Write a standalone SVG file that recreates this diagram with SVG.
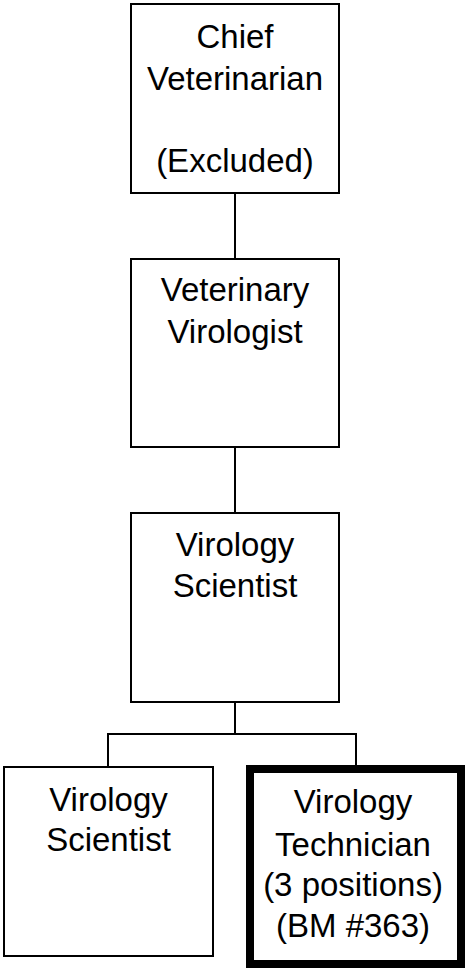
<svg xmlns="http://www.w3.org/2000/svg" width="465" height="969" viewBox="0 0 465 969">
<style>
.box{fill:#fff;stroke:#000;stroke-width:2}
.thick{fill:#fff;stroke:#000;stroke-width:8}
.lbl{font-family:"Liberation Sans",Arial,sans-serif;font-size:33px;fill:#000;text-anchor:middle}
.conn{stroke:#000;stroke-width:2;fill:none}
</style>
<rect width="465" height="969" fill="#fff"/>
<g id="connectors">
<line class="conn" x1="235" y1="193" x2="235" y2="259"/>
<line class="conn" x1="235" y1="447" x2="235" y2="513"/>
<line class="conn" x1="235" y1="702" x2="235" y2="734"/>
<line class="conn" x1="107" y1="734" x2="357" y2="734"/>
<line class="conn" x1="108" y1="733" x2="108" y2="767"/>
<line class="conn" x1="356" y1="733" x2="356" y2="766"/>
</g>
<g id="chief">
<rect class="box" x="131" y="4" width="208" height="189"/>
<text class="lbl" x="235" y="48">Chief</text>
<text class="lbl" x="235" y="90">Veterinarian</text>
<text class="lbl" x="235" y="172">(Excluded)</text>
</g>
<g id="virologist">
<rect class="box" x="131" y="259" width="208" height="188"/>
<text class="lbl" x="235" y="301">Veterinary</text>
<text class="lbl" x="235" y="343">Virologist</text>
</g>
<g id="scientist">
<rect class="box" x="131" y="513" width="208" height="189"/>
<text class="lbl" x="235" y="556">Virology</text>
<text class="lbl" x="235" y="597">Scientist</text>
</g>
<g id="scientist2">
<rect class="box" x="4" y="767" width="209" height="189"/>
<text class="lbl" x="108.5" y="811">Virology</text>
<text class="lbl" x="108.5" y="851">Scientist</text>
</g>
<g id="technician">
<rect class="thick" x="250" y="769" width="211" height="195"/>
<text class="lbl" x="353" y="813">Virology</text>
<text class="lbl" x="353" y="856">Technician</text>
<text class="lbl" x="353" y="896">(3 positions)</text>
<text class="lbl" x="353" y="937">(BM #363)</text>
</g>
</svg>
